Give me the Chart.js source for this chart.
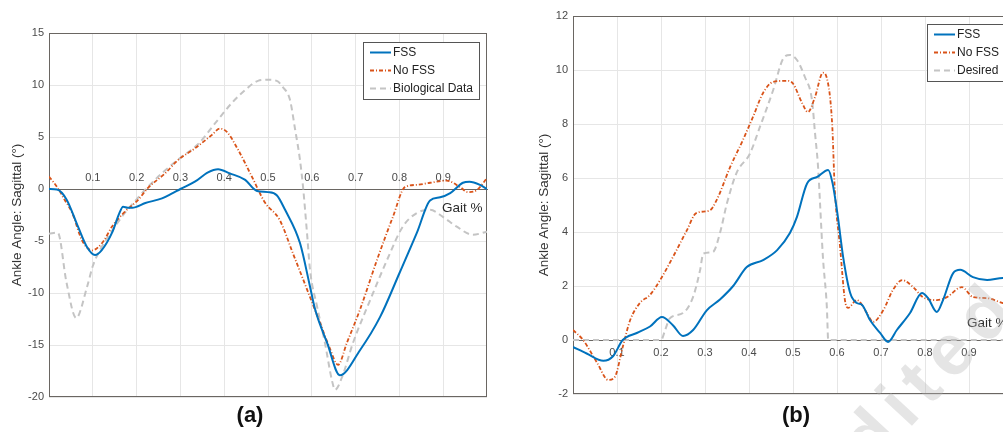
<!DOCTYPE html>
<html>
<head>
<meta charset="utf-8">
<script src="https://cdn.jsdelivr.net/npm/chart.js@4.4.0/dist/chart.umd.min.js"></script>
<style>
  html, body { margin: 0; padding: 0; background: #fff; overflow: hidden; }
  body { width: 1003px; height: 432px; position: relative; font-family: 'Liberation Sans', Arial, sans-serif; }
  canvas { position: absolute; top: 0; }
  #chartA { left: 0; }
  #chartB { left: 510px; }
  .note { position: absolute; color: #2b2b2b; font-size: 13.5px; white-space: nowrap; }
  .panel { position: absolute; font-weight: bold; font-size: 22px; color: #111; transform: translateX(-50%); }
  #mark { position: absolute; left: 793px; top: 464px; font-size: 72px; line-height: 1; letter-spacing: 10px;
          font-weight: bold; color: rgba(180,180,180,0.35);
          transform: rotate(-47deg); transform-origin: 0 0; white-space: nowrap; }
</style>
</head>
<body>
<canvas id="chartA" width="500" height="432"></canvas>
<canvas id="chartB" width="520" height="432"></canvas>
<div class="note" style="left:442px; top:200px">Gait %</div>
<div class="note" style="left:967px; top:315px">Gait %</div>
<div class="panel" style="left:250px; top:402px">(a)</div>
<div class="panel" style="left:796px; top:402px">(b)</div>
<div id="mark">edited</div>
<script>
// gait phase ticks shared by both panels
const gaitTicks = [0.1, 0.2, 0.3, 0.4, 0.5, 0.6, 0.7, 0.8, 0.9];

// (a) ankle angle, [gait fraction, degrees]
const fssA = [[0,0],[0.018,-0.05],[0.04,-1.0],[0.066,-3.6],[0.087,-5.6],[0.105,-6.35],[0.12,-5.9],[0.144,-4.2],
  [0.16,-2.4],[0.169,-1.7],[0.18,-1.8],[0.19,-1.8],[0.22,-1.35],[0.258,-0.9],[0.28,-0.45],[0.30,0],[0.333,0.7],
  [0.363,1.6],[0.386,1.9],[0.413,1.5],[0.447,0.9],[0.475,-0.2],[0.5,-0.3],[0.52,-0.6],[0.539,-2.0],[0.573,-5.2],
  [0.596,-9.4],[0.607,-11.5],[0.635,-14.8],[0.664,-17.9],[0.71,-15.5],[0.756,-12.3],[0.80,-8.1],[0.84,-4.2],
  [0.87,-1.1],[0.893,-0.8],[0.916,-0.4],[0.945,0.6],[0.96,0.7],[0.984,0.4],[1.0,0]];
const noFssA = [[0,1.2],[0.02,0.1],[0.035,-1.0],[0.053,-2.3],[0.075,-4.9],[0.098,-5.9],[0.123,-5.1],[0.144,-3.6],
  [0.173,-2.2],[0.203,-1.06],[0.226,0.1],[0.265,1.5],[0.295,2.8],[0.333,3.9],[0.372,5.2],[0.39,5.8],[0.406,5.5],
  [0.432,3.75],[0.463,1.2],[0.493,-1.3],[0.527,-3.0],[0.557,-6.2],[0.596,-10.4],[0.619,-12.9],[0.64,-15.2],
  [0.66,-16.9],[0.68,-14.8],[0.71,-11.6],[0.749,-6.8],[0.785,-2.7],[0.813,0.2],[0.84,0.4],[0.87,0.6],[0.908,0.8],
  [0.938,0.2],[0.957,-0.3],[0.977,-0.1],[1.0,1.05]];
const bioA = [[0,-4.3],[0.02,-4.2],[0.04,-9.0],[0.062,-12.4],[0.087,-9.4],[0.1,-7.4],[0.116,-5.9],[0.146,-3.9],
  [0.173,-2.3],[0.2,-1.0],[0.219,-0.1],[0.26,1.6],[0.3,3.0],[0.34,4.3],[0.379,6.3],[0.418,8.3],[0.45,9.6],
  [0.477,10.4],[0.5,10.5],[0.52,10.4],[0.534,9.8],[0.55,8.6],[0.562,5.7],[0.573,2.8],[0.58,0.2],[0.589,-4.2],
  [0.596,-7.8],[0.612,-11.3],[0.63,-14.8],[0.646,-18.4],[0.653,-19.3],[0.669,-18.1],[0.694,-14.8],[0.733,-10.7],
  [0.772,-6.8],[0.808,-3.6],[0.84,-2.3],[0.87,-2.0],[0.9,-2.7],[0.93,-3.6],[0.968,-4.4],[1.0,-4.1]];

// (b) ankle angle, [gait fraction, degrees]
const fssB = [[0,-0.26],[0.031,-0.5],[0.069,-0.77],[0.091,-0.6],[0.113,0],[0.145,0.26],[0.175,0.5],[0.202,0.85],
  [0.227,0.55],[0.25,0.15],[0.273,0.37],[0.304,1.1],[0.334,1.5],[0.364,2.0],[0.395,2.7],[0.432,2.96],[0.464,3.33],
  [0.493,3.96],[0.509,4.56],[0.532,5.8],[0.555,6.04],[0.58,6.3],[0.59,5.8],[0.602,4.56],[0.614,3.07],[0.63,1.74],
  [0.645,1.37],[0.657,1.3],[0.675,0.74],[0.698,0.26],[0.716,-0.07],[0.736,0.37],[0.766,1.0],[0.793,1.74],
  [0.807,1.55],[0.827,1.04],[0.841,1.48],[0.864,2.48],[0.88,2.6],[0.909,2.33],[0.941,2.22],[0.977,2.3],[1.0,2.3]];
const noFssB = [[0,0.37],[0.023,0],[0.055,-0.85],[0.08,-1.48],[0.095,-1.37],[0.113,-0.26],[0.13,0.74],[0.152,1.37],
  [0.175,1.67],[0.198,2.22],[0.227,3.07],[0.259,4.07],[0.28,4.7],[0.311,4.8],[0.327,5.2],[0.357,6.4],[0.386,7.4],
  [0.409,8.26],[0.432,9.15],[0.455,9.56],[0.486,9.6],[0.5,9.5],[0.52,8.8],[0.534,8.44],[0.55,9.0],[0.568,9.9],
  [0.577,9.7],[0.589,8.0],[0.595,5.56],[0.607,3.44],[0.618,1.48],[0.625,1.19],[0.645,1.48],[0.668,1.0],[0.682,0.67],
  [0.705,1.1],[0.727,1.85],[0.748,2.22],[0.773,1.96],[0.795,1.59],[0.827,1.48],[0.85,1.59],[0.884,1.96],
  [0.909,1.59],[0.941,1.55],[0.977,1.37],[1.0,1.3]];
const desiredB = [[0,0],[0.2,0],[0.21,0.4],[0.22,0.8],[0.25,1.0],[0.273,1.6],[0.289,2.6],[0.296,3.2],[0.318,3.26],
  [0.334,3.96],[0.35,5.07],[0.372,6.2],[0.402,6.9],[0.425,7.9],[0.455,9.26],[0.477,10.4],[0.493,10.56],[0.509,10.37],
  [0.527,9.74],[0.543,8.9],[0.55,7.67],[0.557,6.4],[0.561,5.2],[0.568,3.07],[0.577,1.2],[0.58,0],[1.0,0]];

const FONT = "'Liberation Sans', Arial, sans-serif";
const gridColor = '#e6e6e6';
const axisColor = '#6a6662';
const tickColor = '#4a4a4a';
Chart.defaults.font.family = FONT;

const pts = arr => arr.map(([x, y]) => ({ x, y }));

function series(label, data, kind) {
  const base = { label, data: pts(data), pointRadius: 0, cubicInterpolationMode: 'monotone', fill: false };
  if (kind === 'fss') return { ...base, borderColor: '#0072BD', borderWidth: 2 };
  if (kind === 'nofss') return { ...base, borderColor: '#D95319', borderWidth: 1.8, borderDash: [4, 2, 1, 2] };
  return { ...base, borderColor: '#c4c4c4', borderWidth: 2, borderDash: [6, 4] };
}

// box around the plot area
const frame = {
  id: 'frame',
  beforeDatasetsDraw(chart) {
    const { ctx, chartArea: a } = chart;
    ctx.save();
    ctx.strokeStyle = axisColor;
    ctx.lineWidth = 1;
    ctx.strokeRect(a.left + 0.5, a.top + 0.5, a.width - 1, a.height - 1);
    ctx.restore();
  }
};

// boxed legend in the top right corner of the plot area
const boxLegend = {
  id: 'boxLegend',
  afterDatasetsDraw(chart, args, opts) {
    const { ctx, chartArea: a } = chart;
    const sets = chart.data.datasets;
    ctx.save();
    ctx.font = '12px ' + FONT;
    const textW = Math.max(...sets.map(d => ctx.measureText(d.label).width));
    const w = Math.round(7 + 21 + 2 + textW + 6), h = 57;
    const x0 = Math.round(a.right - 8 - w), y0 = Math.round(a.top + opts.top);
    ctx.fillStyle = '#fff';
    ctx.fillRect(x0, y0, w, h);
    ctx.strokeStyle = '#555';
    ctx.lineWidth = 1;
    ctx.strokeRect(x0 + 0.5, y0 + 0.5, w, h);
    sets.forEach((d, i) => {
      const cy = y0 + 1.5 + 18 * (i + 0.5);
      ctx.strokeStyle = d.borderColor;
      ctx.lineWidth = d.borderWidth;
      ctx.setLineDash(d.borderDash || []);
      ctx.beginPath();
      ctx.moveTo(x0 + 7, cy);
      ctx.lineTo(x0 + 28, cy);
      ctx.stroke();
      ctx.setLineDash([]);
      ctx.fillStyle = '#222';
      ctx.textBaseline = 'middle';
      ctx.fillText(d.label, x0 + 30, cy);
    });
    ctx.restore();
  }
};

function makeChart(id, datasets, o) {
  return new Chart(document.getElementById(id), {
    type: 'line',
    data: { datasets },
    plugins: [frame, boxLegend],
    options: {
      responsive: false,
      animation: false,
      layout: { padding: { left: 0, top: o.top, right: o.right, bottom: o.bottom } },
      plugins: { legend: { display: false }, tooltip: { enabled: false }, boxLegend: { top: o.legendTop } },
      scales: {
        x: {
          type: 'linear', min: 0, max: 1,
          position: { y: 0 },
          afterBuildTicks: s => { s.ticks = gaitTicks.map(v => ({ value: v })); },
          grid: { color: gridColor, drawTicks: false },
          border: { color: axisColor, width: 1 },
          ticks: { padding: o.xPad, maxRotation: 0, autoSkip: false, color: tickColor, font: { size: 11 },
                   callback: v => v.toFixed(1) }
        },
        y: {
          min: o.yMin, max: o.yMax,
          afterFit: s => { s.width = o.yWidth; },
          grid: { color: gridColor, drawTicks: false },
          border: { display: false },
          ticks: { stepSize: o.yStep, padding: 5, color: tickColor, font: { size: 11 } },
          title: { display: true, text: 'Ankle Angle: Sagittal (°)', color: '#333', font: { size: 13.5 },
                   padding: { top: o.titlePad, bottom: 0 } }
        }
      }
    }
  });
}

makeChart('chartA', [
  series('FSS', fssA, 'fss'),
  series('No FSS', noFssA, 'nofss'),
  series('Biological Data', bioA, 'bio')
], { top: 33, right: 13, bottom: 35, yWidth: 49, yMin: -20, yMax: 15, yStep: 5, xPad: -18, titlePad: 9, legendTop: 9 });

makeChart('chartB', [
  series('FSS', fssB, 'fss'),
  series('No FSS', noFssB, 'nofss'),
  series('Desired', desiredB, 'bio')
], { top: 16, right: 17, bottom: 38, yWidth: 63, yMin: -2, yMax: 12, yStep: 2, xPad: 6, titlePad: 26, legendTop: 8 });
</script>
</body>
</html>
